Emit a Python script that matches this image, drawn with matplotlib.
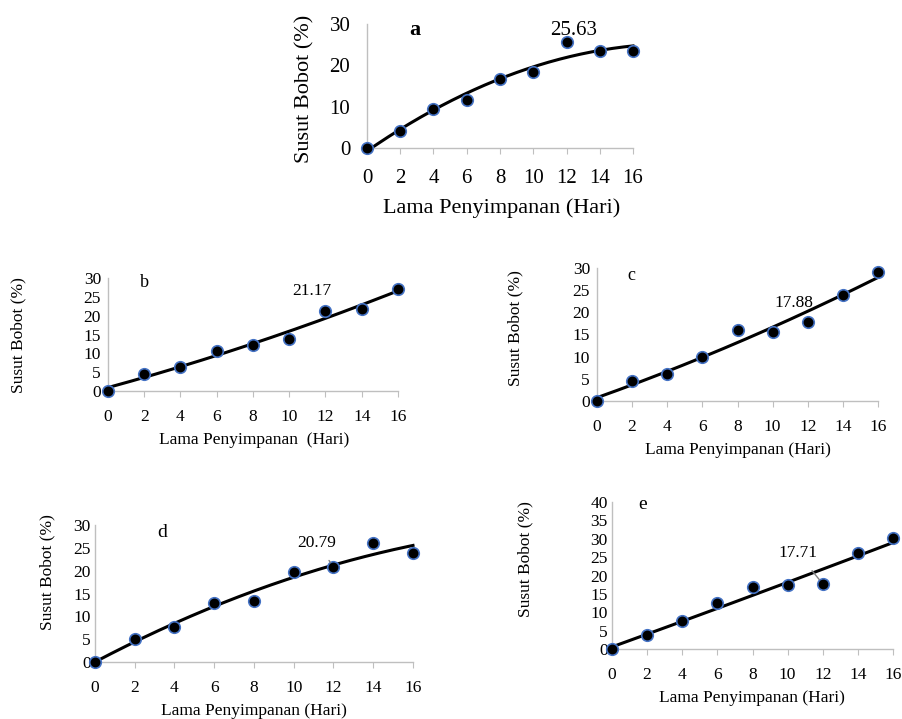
import numpy as np
import matplotlib
matplotlib.use("Agg")
import matplotlib.pyplot as plt

plt.rcParams['font.family'] = ['Liberation Serif', 'DejaVu Serif']

# Storage days (same for every panel)
days = [0, 2, 4, 6, 8, 10, 12, 14, 16]

# Weight loss (%) per panel
loss_a = [0, 4.2, 9.4, 11.5, 16.8, 18.4, 25.63, 23.5, 23.4]
loss_b = [0, 4.6, 6.5, 10.6, 12.1, 13.8, 21.17, 21.7, 27.2]
loss_c = [0, 4.5, 6.1, 9.9, 16.1, 15.5, 17.88, 23.9, 29.0]
loss_d = [0, 5.1, 7.7, 13.0, 13.3, 19.6, 20.79, 26.1, 23.9]
loss_e = [0, 3.8, 7.5, 12.5, 16.8, 17.3, 17.71, 26.1, 30.2]

xlabel = "Lama Penyimpanan (Hari)"
ylabel = "Susut Bobot (%)"

W, H = 903, 719
fig = plt.figure(figsize=(W / 100, H / 100), dpi=100)


def px_axes(left, top, right, bottom):
    return fig.add_axes([left / W, 1 - bottom / H, (right - left) / W, (bottom - top) / H])


def draw_panel(box, y, ymax, ystep, letter, lab, lab_xy, arrow_to=None,
               tick_fs=12.5, lab_fs=12.5, letter_bold=False, ypad=4, xpad=7,
               xlab_pos=None, ylab_pos=None, xlab_text=xlabel):
    ax = px_axes(*box)
    # polynomial trend line like the spreadsheet one
    coef = np.polyfit(days, y, 2)
    xs = np.linspace(0, 16, 200)
    ax.plot(xs, np.polyval(coef, xs), color='black', lw=2.2, zorder=2, clip_on=False)
    ax.plot(days, y, 'o', ms=8.3, mfc='black', mec='#4472C4', mew=1.2,
            zorder=3, clip_on=False)
    ax.set_xlim(0, 16)
    ax.set_ylim(0, ymax)
    ax.set_xticks(days)
    ax.set_yticks(np.arange(0, ymax + 1, ystep))
    for s in ['top', 'right']:
        ax.spines[s].set_visible(False)
    for s in ['left', 'bottom']:
        ax.spines[s].set_color('#BFBFBF')
        ax.spines[s].set_linewidth(1)
    ax.tick_params(axis='x', length=4, color='#BFBFBF', labelsize=tick_fs, pad=xpad)
    ax.tick_params(axis='y', length=0, labelsize=tick_fs, pad=ypad)
    ax.text(lab_xy[0], lab_xy[1], letter[0], ha='center', va='center',
            fontsize=letter[1], fontweight='bold' if letter_bold else 'normal')
    if arrow_to is None:
        ax.text(lab[1], lab[2], lab[0], ha='center', va='center', fontsize=lab[3])
    else:
        ax.annotate(lab[0], xy=arrow_to, xytext=(lab[1], lab[2]),
                    ha='center', va='center', fontsize=lab[3],
                    arrowprops=dict(arrowstyle='-', color='#808080', lw=1,
                                    shrinkA=6, shrinkB=4))
    fig.text(xlab_pos[0] / W, 1 - xlab_pos[1] / H, xlab_text, ha='center',
             va='center', fontsize=lab_fs)
    fig.text(ylab_pos[0] / W, 1 - ylab_pos[1] / H, ylabel, ha='center',
             va='center', rotation=90, fontsize=lab_fs)
    return ax


# a
draw_panel((367, 24, 633, 148), loss_a, 30, 10, ("a", 16), ("25.63", 12.4, 28.5, 15),
           (2.9, 28.5), tick_fs=15, lab_fs=16, letter_bold=True, ypad=12, xpad=11,
           xlab_pos=(502, 208), ylab_pos=(305, 89))
# b
draw_panel((108, 278, 398, 391), loss_b, 30, 5, ("b", 13), ("21.17", 11.26, 26.5, 12.5),
           (2.0, 28.9), ypad=5, xpad=9,
           xlab_pos=(254, 440), ylab_pos=(18, 335), xlab_text="Lama Penyimpanan  (Hari)")
# c
draw_panel((597, 268, 878, 401), loss_c, 30, 5, ("c", 13), ("17.88", 11.2, 22.2, 12.5),
           (1.98, 28.3), ypad=5, xpad=9,
           xlab_pos=(738, 450), ylab_pos=(515, 328))
# d
draw_panel((95, 525, 413, 662), loss_d, 30, 5, ("d", 14), ("20.79", 11.17, 26.1, 12.5),
           (3.36, 28.4), arrow_to=(12, 20.79), ypad=3, xpad=9,
           xlab_pos=(254, 711), ylab_pos=(47, 572))
# e
draw_panel((612, 502, 893, 649), loss_e, 40, 5, ("e", 14), ("17.71", 10.6, 26.0, 12.5),
           (1.74, 39.4), arrow_to=(12, 17.71), ypad=3, xpad=9,
           xlab_pos=(752, 698), ylab_pos=(525, 559))

fig.savefig("out.png", dpi=100)
